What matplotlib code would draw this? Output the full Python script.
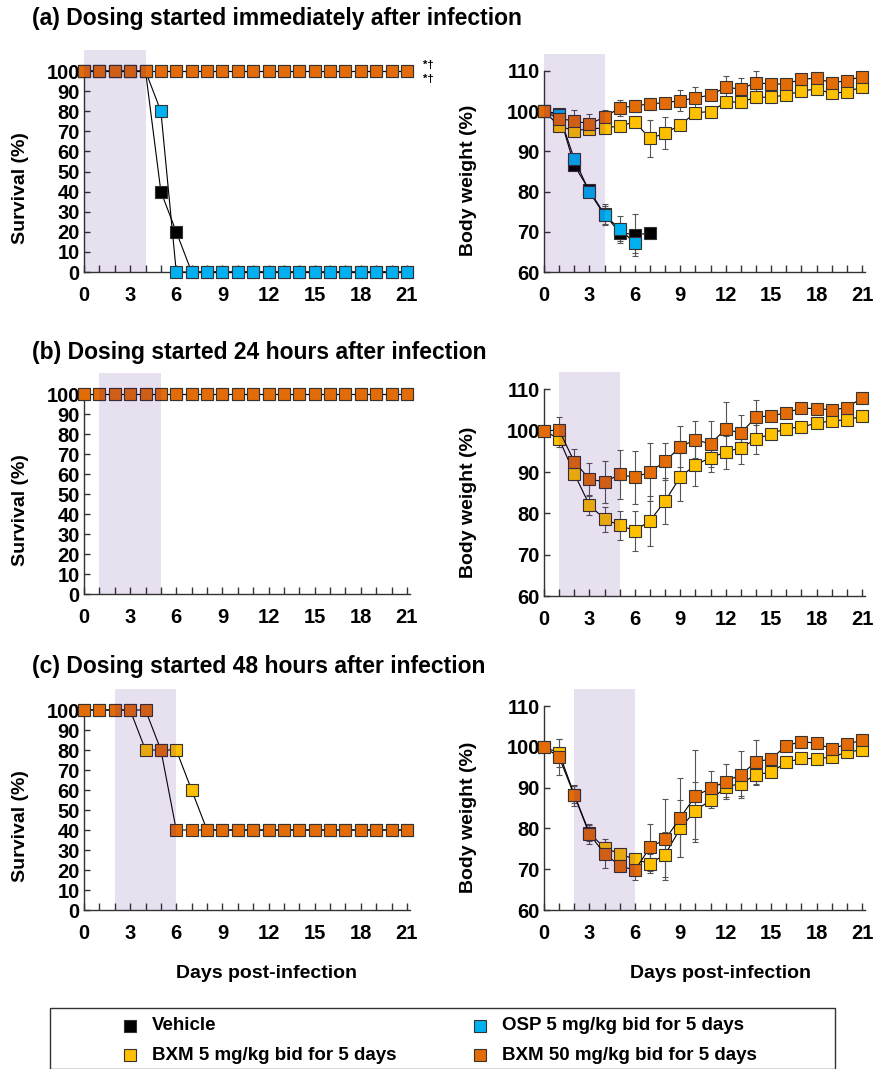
import numpy as np
import matplotlib.pyplot as plt
from matplotlib.lines import Line2D
from matplotlib.patches import Rectangle

plt.rcParams['font.family'] = ['Liberation Sans', 'DejaVu Sans']
plt.rcParams['font.weight'] = 'bold'
plt.rcParams['axes.labelweight'] = 'bold'

W, H = 873, 1069

days = np.arange(22)
groups = ['Vehicle', 'OSP 5 mg/kg bid for 5 days',
          'BXM 5 mg/kg bid for 5 days', 'BXM 50 mg/kg bid for 5 days']
colors = ['#000000', '#00B0F0', '#FFC000', '#E36C09']

# (a) dosing started immediately after infection
surv_a_veh = [100, 100, 100, 100, 100, 40, 20, 0, 0, 0, 0, 0, 0, 0, 0, 0, 0, 0, 0, 0, 0, 0]
surv_a_osp = [100, 100, 100, 100, 100, 80, 0, 0, 0, 0, 0, 0, 0, 0, 0, 0, 0, 0, 0, 0, 0, 0]
surv_a_b5 = [100, 100, 100, 100, 100, 100, 100, 100, 100, 100, 100, 100, 100, 100, 100, 100, 100, 100, 100, 100, 100, 100]
surv_a_b50 = [100, 100, 100, 100, 100, 100, 100, 100, 100, 100, 100, 100, 100, 100, 100, 100, 100, 100, 100, 100, 100, 100]

bw_a_veh = [100, 99.3, 86.5, 80.3, 74.3, 69.8, 69.3, 69.6]
bw_a_veh_err = [0, 0.5, 1.2, 1.0, 2.5, 2.5, 5.2, 0]
bw_a_osp = [100, 99.1, 88.1, 79.9, 74.1, 70.8, 67.1]
bw_a_osp_err = [0, 0.5, 1.0, 1.0, 2.2, 3.2, 2.5]
bw_a_b5 = [100, 96.3, 95.1, 95.6, 95.8, 96.3, 97.3, 93.2, 94.5, 96.6, 99.6, 99.9,
           102.2, 102.3, 103.4, 103.5, 104.0, 105.0, 105.5, 104.4, 104.8, 106.0]
bw_a_b5_err = [0, 0.5, 1.2, 0.8, 0.6, 1.0, 0.5, 4.6, 4.0, 0.5, 0.5, 0.5,
               0.5, 0.5, 0.5, 0.5, 0.5, 0.5, 0.5, 0.5, 0.5, 0.5]
bw_a_b50 = [100, 98.1, 97.6, 96.8, 98.5, 100.8, 101.3, 101.8, 102.1, 102.6, 103.3, 104.0,
            105.9, 105.5, 107.1, 106.7, 106.8, 107.9, 108.2, 107.0, 107.6, 108.6]
bw_a_b50_err = [0, 0.5, 2.8, 2.5, 1.8, 2.0, 1.5, 1.5, 0.5, 2.6, 2.6, 0.5,
                2.8, 2.8, 2.8, 0.5, 0.5, 0.5, 0.5, 0.5, 0.5, 0.5]

# (b) dosing started 24 h after infection
surv_b_b5 = [100, 100, 100, 100, 100, 100, 100, 100, 100, 100, 100, 100, 100, 100, 100, 100, 100, 100, 100, 100, 100, 100]
surv_b_b50 = [100, 100, 100, 100, 100, 100, 100, 100, 100, 100, 100, 100, 100, 100, 100, 100, 100, 100, 100, 100, 100, 100]

bw_b_b5 = [100, 98.0, 89.6, 82.0, 78.6, 77.1, 75.8, 78.2, 83.0, 88.8, 91.7, 93.5,
           94.8, 95.9, 97.9, 99.3, 100.5, 100.9, 101.8, 102.4, 102.6, 103.5]
bw_b_b5_err = [0, 2.0, 1.5, 2.5, 3.0, 3.5, 4.8, 6.0, 5.5, 5.8, 5.0, 3.5,
               4.0, 4.0, 3.5, 0.5, 0.5, 0.5, 0.5, 0.5, 0.5, 0.5]
bw_b_b50 = [100, 100.1, 92.5, 88.3, 87.6, 89.4, 88.7, 90.0, 92.6, 96.1, 97.8, 96.8,
            100.4, 99.4, 103.3, 103.6, 104.3, 105.5, 105.3, 105.1, 105.5, 108.0]
bw_b_b50_err = [0, 3.3, 3.0, 4.0, 5.0, 6.0, 6.5, 7.0, 4.5, 5.0, 4.5, 5.5,
                6.5, 4.5, 4.2, 0.5, 0.5, 0.5, 0.5, 0.5, 0.5, 0.5]

# (c) dosing started 48 h after infection
surv_c_b5 = [100, 100, 100, 100, 80, 80, 80, 60, 40, 40, 40, 40, 40, 40, 40, 40, 40, 40, 40, 40, 40, 40]
surv_c_b50 = [100, 100, 100, 100, 100, 80, 40, 40, 40, 40, 40, 40, 40, 40, 40, 40, 40, 40, 40, 40, 40, 40]

bw_c_b5 = [100, 98.5, 88.3, 78.9, 75.2, 73.8, 72.4, 71.4, 73.6, 80.0, 84.4, 86.9,
           90.2, 91.0, 93.2, 93.8, 96.2, 97.2, 97.1, 97.5, 98.7, 99.3]
bw_c_b5_err = [0, 3.5, 2.0, 2.0, 1.5, 1.0, 1.0, 2.4, 5.5, 7.0, 7.0, 2.0,
               2.5, 3.0, 2.5, 0.5, 0.5, 0.5, 0.5, 0.5, 0.5, 0.5]
bw_c_b50 = [100, 97.5, 88.1, 78.6, 73.8, 70.9, 69.7, 75.4, 77.3, 82.6, 88.0, 89.8,
            91.5, 93.2, 96.3, 97.1, 100.3, 101.3, 100.9, 99.5, 100.7, 101.6]
bw_c_b50_err = [0, 4.5, 2.5, 2.5, 3.5, 1.0, 2.4, 5.8, 9.9, 9.7, 11.3, 4.2,
                4.2, 5.8, 5.3, 0.5, 0.5, 0.5, 0.5, 0.5, 0.5, 0.5]

titles = ['(a) Dosing started immediately after infection',
          '(b) Dosing started 24 hours after infection',
          '(c) Dosing started 48 hours after infection']
dosing = [(0, 4), (1, 5), (2, 6)]

fig = plt.figure(figsize=(W / 100, H / 100), dpi=100)


def make_ax(x0, x1, top, bottom):
    return fig.add_axes([x0 / W, 1 - bottom / H, (x1 - x0) / W, (bottom - top) / H])


def style(ax, ymin, ymax, ytop, yticks, span):
    # translucent dark violet over everything -> lavender band that darkens the markers under it
    ax.axvspan(span[0], span[1], color='#3F0082', alpha=0.12, zorder=5, lw=0)
    ax.set_xlim(0, 21.2)
    ax.set_ylim(ymin, ytop)
    for s in ['top', 'right']:
        ax.spines[s].set_visible(False)
    for s in ['left', 'bottom']:
        ax.spines[s].set_color('#333333')
        ax.spines[s].set_linewidth(1)
    ax.spines['left'].set_bounds(ymin, ymax)
    ax.set_xticks(range(0, 22, 3))
    ax.set_xticks(range(22), minor=True)
    ax.set_yticks(yticks)
    ax.tick_params(axis='x', which='both', direction='in', length=5, width=1,
                   color='#333333', pad=10, labelsize=14.5)
    ax.tick_params(axis='y', direction='in', length=4, width=1,
                   color='#333333', pad=3, labelsize=14.5)


def survival(ax, series):
    for vals, c in series:
        ax.plot(days, vals, color='black', lw=0.8, marker='s', ms=8.8,
                mfc=c, mec='#333333', mew=0.8, clip_on=False, zorder=3)


def weight(ax, series):
    for vals, err, c in series:
        d = days[:len(vals)]
        ax.errorbar(d, vals, yerr=err, fmt='none', ecolor='#555555',
                    elinewidth=0.8, capsize=2.5, capthick=0.8, zorder=2)
        ax.plot(d, vals, color='black', lw=0.8, marker='s', ms=8.8,
                mfc=c, mec='#333333', mew=0.8, clip_on=False, zorder=3)


rows = [(50, 272, 54, 272), (373, 594, 372, 596), (689, 910, 689, 910)]
title_y = [18, 352, 666]

for i in range(3):
    lt, lb, rt, rb = rows[i]
    axl = make_ax(84, 410, lt, lb)
    axr = make_ax(544, 865, rt, rb)
    style(axl, 0, 100, 110.5, range(0, 101, 10), dosing[i])
    style(axr, 60, 110, 114.2, range(60, 111, 10), dosing[i])
    axl.set_ylabel('Survival (%)', fontsize=14)
    axl.yaxis.set_label_coords(-0.17, 0.38)
    axr.set_ylabel('Body weight (%)', fontsize=14)
    axr.yaxis.set_label_coords(-0.21, 0.42)
    fig.text(32 / W, 1 - title_y[i] / H, titles[i], fontsize=16.5,
             ha='left', va='center')

    if i == 0:
        survival(axl, [(surv_a_veh, colors[0]), (surv_a_osp, colors[1]),
                       (surv_a_b5, colors[2]), (surv_a_b50, colors[3])])
        weight(axr, [(bw_a_veh, bw_a_veh_err, colors[0]),
                     (bw_a_osp, bw_a_osp_err, colors[1]),
                     (bw_a_b5, bw_a_b5_err, colors[2]),
                     (bw_a_b50, bw_a_b50_err, colors[3])])
        fig.text(423 / W, 1 - 65 / H, '*†', fontsize=8, ha='left', va='center')
        fig.text(423 / W, 1 - 79 / H, '*†', fontsize=8, ha='left', va='center')
    elif i == 1:
        survival(axl, [(surv_b_b5, colors[2]), (surv_b_b50, colors[3])])
        weight(axr, [(bw_b_b5, bw_b_b5_err, colors[2]),
                     (bw_b_b50, bw_b_b50_err, colors[3])])
    else:
        survival(axl, [(surv_c_b5, colors[2]), (surv_c_b50, colors[3])])
        weight(axr, [(bw_c_b5, bw_c_b5_err, colors[2]),
                     (bw_c_b50, bw_c_b50_err, colors[3])])

fig.text(266 / W, 1 - 973 / H, 'Days post-infection', fontsize=14,
         ha='center', va='center')
fig.text(720 / W, 1 - 973 / H, 'Days post-infection', fontsize=14,
         ha='center', va='center')

# legend box
fig.add_artist(Rectangle((50 / W, 0), (835 - 50) / W, 1 - 1008 / H,
                         transform=fig.transFigure, fill=False,
                         ec='#333333', lw=1, clip_on=False))
spots = [(130, 1026), (480, 1026), (130, 1055), (480, 1055)]
for (x, y), g, c in zip(spots, groups, colors):
    fig.add_artist(Line2D([x / W], [1 - y / H], transform=fig.transFigure,
                          marker='s', ms=8.5, mfc=c, mec='#333333', mew=0.8, ls='none'))
    fig.text((x + 22) / W, 1 - y / H, g, fontsize=13.5, ha='left', va='center')

fig.savefig('out.png', dpi=100)
